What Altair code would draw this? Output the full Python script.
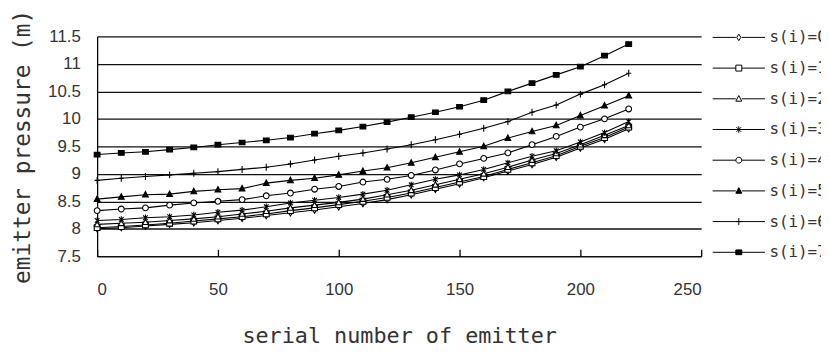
import altair as alt
import pandas as pd

# ---------------- data ----------------
emitter = [0, 10, 20, 30, 40, 50, 60, 70, 80, 90, 100, 110, 120, 130, 140, 150, 160, 170, 180, 190, 200, 210, 220]
series_names = ["s(i)=0", "s(i)=1", "s(i)=2", "s(i)=3", "s(i)=4", "s(i)=5", "s(i)=6", "s(i)=7"]

s0 = [8.00, 8.02, 8.05, 8.08, 8.11, 8.15, 8.19, 8.24, 8.29, 8.34, 8.40, 8.46, 8.53, 8.62, 8.72, 8.82, 8.93, 9.05, 9.17, 9.30, 9.47, 9.63, 9.82]
s1 = [8.02, 8.04, 8.07, 8.10, 8.14, 8.18, 8.22, 8.27, 8.33, 8.38, 8.44, 8.50, 8.57, 8.65, 8.75, 8.85, 8.95, 9.08, 9.20, 9.33, 9.50, 9.66, 9.85]
s2 = [8.08, 8.10, 8.12, 8.15, 8.18, 8.22, 8.27, 8.32, 8.38, 8.43, 8.48, 8.54, 8.62, 8.70, 8.80, 8.90, 9.00, 9.12, 9.25, 9.37, 9.53, 9.70, 9.88]
s3 = [8.15, 8.17, 8.20, 8.22, 8.25, 8.30, 8.34, 8.40, 8.47, 8.52, 8.57, 8.63, 8.70, 8.80, 8.90, 8.98, 9.08, 9.20, 9.32, 9.42, 9.58, 9.75, 9.95]
s4 = [8.33, 8.36, 8.38, 8.43, 8.47, 8.50, 8.53, 8.60, 8.65, 8.72, 8.77, 8.85, 8.90, 8.97, 9.07, 9.18, 9.28, 9.38, 9.53, 9.68, 9.85, 10.00, 10.18]
s5 = [8.54, 8.58, 8.62, 8.63, 8.68, 8.71, 8.73, 8.83, 8.88, 8.92, 8.98, 9.05, 9.11, 9.20, 9.30, 9.40, 9.50, 9.65, 9.77, 9.88, 10.06, 10.24, 10.42]
s6 = [8.88, 8.92, 8.95, 8.98, 9.01, 9.04, 9.08, 9.12, 9.18, 9.25, 9.32, 9.38, 9.45, 9.53, 9.62, 9.72, 9.83, 9.95, 10.12, 10.25, 10.45, 10.62, 10.83]
s7 = [9.35, 9.38, 9.40, 9.44, 9.48, 9.53, 9.57, 9.61, 9.66, 9.73, 9.79, 9.86, 9.94, 10.03, 10.12, 10.22, 10.34, 10.50, 10.65, 10.80, 10.95, 11.15, 11.36]

y_ticks = [7.5, 8, 8.5, 9, 9.5, 10, 10.5, 11, 11.5]
x_ticks = [0, 50, 100, 150, 200, 250]

all_series = [s0, s1, s2, s3, s4, s5, s6, s7]
rows = []
for name, vals in zip(series_names, all_series):
    for xv, yv in zip(emitter, vals):
        rows.append({"x": xv, "y": yv, "series": name})
df = pd.DataFrame(rows)

# ---------------- marker styles ----------------
diamond = "M0,-1.1L0.7,0L0,1.1L-0.7,0Z"
square = "M-1,-1H1V1H-1Z"
triangle = "M0,-1.1L1,0.8H-1Z"
star = "M-0.8,-0.8L0.8,0.8M-0.8,0.8L0.8,-0.8M0,-1.1V1.1"
circle = "M-1,0A1,1,0,1,0,1,0A1,1,0,1,0,-1,0Z"
plus = "M-0.9,0H0.9M0,-1.2V1.2"
rect = "M-1,-0.8H1V0.8H-1Z"
marker_paths = [diamond, square, triangle, star, circle, triangle, plus, rect]

split_line = "M-8.8,0H-1M1,0H8.8"
full_line = "M-8.8,0H8.8"
legend_paths = [
    split_line + diamond,
    split_line + square,
    split_line + triangle,
    full_line + star,
    split_line + circle,
    split_line + triangle,
    full_line + plus,
    full_line + rect,
]
fills = ["white", "white", "white", "white", "white", "black", "white", "black"]
strokes = ["black"] * 8

TEXT = "#333333"

x_enc = alt.X(
    "x:Q",
    scale=alt.Scale(domain=[0, 250], nice=False),
    axis=alt.Axis(
        values=x_ticks,
        title="serial number of emitter",
        offset=-7,
        domain=False,
        grid=False,
        ticks=True,
        tickSize=7,
        tickColor="black",
        tickWidth=1.3,
        labelPadding=26,
        labelFont="Liberation Sans",
        labelFontSize=17,
        labelColor=TEXT,
        titleFont="DejaVu Sans Mono",
        titleFontSize=22,
        titleFontWeight="normal",
        titleColor=TEXT,
        titlePadding=28,
    ),
)
y_enc = alt.Y(
    "y:Q",
    scale=alt.Scale(domain=[7.5, 11.5], nice=False, zero=False),
    axis=alt.Axis(
        values=y_ticks,
        labelExpr="'' + datum.value",
        title="emitter pressure (m)",
        domain=True,
        domainColor="black",
        domainWidth=1.3,
        ticks=False,
        tickSize=0,
        grid=True,
        gridColor="#111111",
        gridWidth=1.3,
        gridOpacity=1,
        labelPadding=17,
        labelFont="Liberation Sans",
        labelFontSize=17,
        labelColor=TEXT,
        titleFont="DejaVu Sans Mono",
        titleFontSize=23,
        titleFontWeight="normal",
        titleColor=TEXT,
        titleAngle=270,
        titleX=-75,
        titleY=111,
        titleAlign="center",
        titleBaseline="middle",
    ),
)

base = alt.Chart(df)

lines = base.mark_line(color="black", strokeWidth=1.1).encode(
    x=x_enc, y=y_enc, detail="series:N"
)

points = base.mark_point(filled=True, stroke="black", strokeWidth=1.1, size=34, opacity=1).encode(
    x=x_enc,
    y=y_enc,
    shape=alt.Shape("series:N", scale=alt.Scale(domain=series_names, range=marker_paths), legend=None),
    fill=alt.Fill("series:N", scale=alt.Scale(domain=series_names, range=fills), legend=None),
)

leg = alt.Legend(
    title=None,
    orient="none",
    legendX=640,
    legendY=-7,
    padding=0,
    labelFont="DejaVu Sans Mono",
    labelFontSize=16,
    labelColor=TEXT,
    labelOffset=23,
    symbolSize=36,
    symbolStrokeWidth=1,
    symbolOpacity=1,
    rowPadding=15,
)

legend_layer = base.transform_filter("false").mark_point(
    filled=True, strokeWidth=1, size=36, opacity=1
).encode(
    x=x_enc,
    y=y_enc,
    shape=alt.Shape("series:N", scale=alt.Scale(domain=series_names, range=legend_paths), legend=leg),
    fill=alt.Fill("series:N", scale=alt.Scale(domain=series_names, range=fills), legend=leg),
    stroke=alt.Stroke("series:N", scale=alt.Scale(domain=series_names, range=strokes), legend=leg),
)

chart = (
    alt.layer(lines, points, legend_layer)
    .resolve_scale(shape="independent", fill="independent", stroke="independent")
    .properties(
        width=610,
        height=222,
        autosize=alt.AutoSizeParams(type="none"),
        padding={"left": 90, "top": 27, "right": 121, "bottom": 95},
        background="white",
    )
    .configure_view(stroke=None)
)

chart.save("out.html", embed_options={"renderer": "svg", "actions": False})
